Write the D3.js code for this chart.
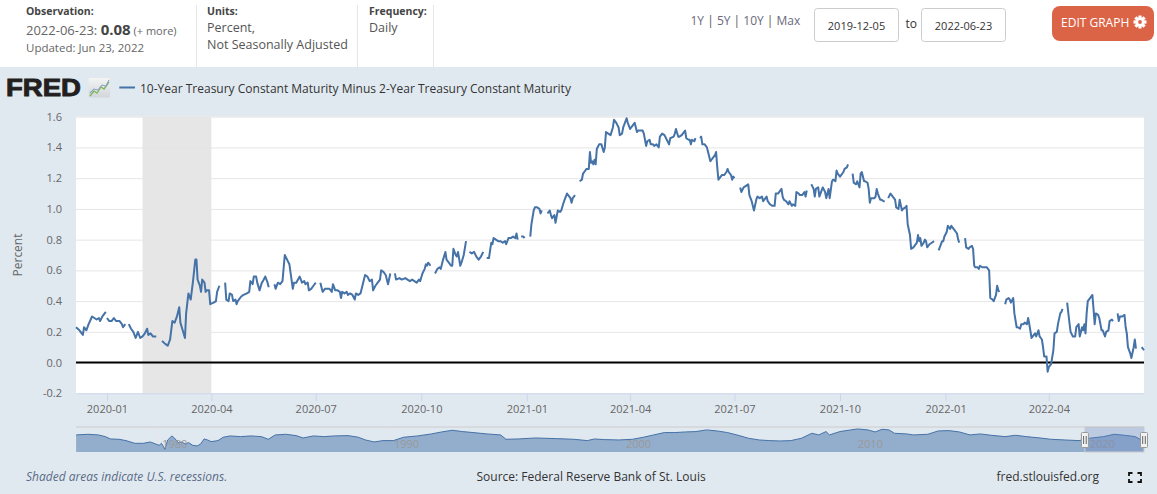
<!DOCTYPE html>
<html>
<head>
<meta charset="utf-8">
<script src="https://cdn.jsdelivr.net/npm/d3@7"></script>
<style>
  body { margin: 0; background: #e1e9f0; }
  svg { display: block; font-family: "Open Sans", sans-serif; }
</style>
</head>
<body>
<svg id="chart" width="1157" height="494"></svg>
<script>
"use strict";

const START_DAY = "2019-12-05";
const END_DAY = "2022-06-23";
const NAV_START = "1976-06-01";

// [days since START_DAY, percent]; null = missing observation (gap in the line)
const spreadObs = [
[0,0.23],[3,0.21],[6,0.18],[7,0.23],[9,0.21],[11,0.25],[14,0.30],[16,0.29],[18,0.28],[20,0.29],[21,0.27],[23,0.30],[26,0.33],
[26.5,null],[27,0.29],[29,0.27],[31,0.27],[33,0.29],[35,0.27],[38,0.27],[40,0.25],[41,0.23],[43,0.25],[44.5,null],
[46,0.25],[48,0.22],[50,0.20],[52,0.16],[54,0.20],[56,0.16],[58,0.17],[60,0.19],[62,0.22],[63,0.18],[65,0.19],[67,0.17],[70,0.17],[72,null],
[75,0.14],[78,0.12],[80,0.11],[82,0.15],[84,0.27],[86,0.26],[88,0.30],[90,0.36],[91,0.26],[93,0.21],[95,0.16],[96,0.32],[98,0.45],
[100,0.41],[102,0.53],[104,0.67],[105,0.67],[106,0.54],[108,0.50],[109,0.46],[110,0.54],[112,0.52],[113,0.46],[114,0.47],[116,0.47],
[117,0.38],[120,0.39],[122,0.40],[123,0.46],[125,0.50],[127,null],[130,0.52],[131,0.41],[133,0.40],[134,0.45],[136,0.44],[137,0.40],
[139,0.41],[140,0.38],[141,0.40],[144,0.43],[146,0.44],[149,0.45],[151,0.46],[152,0.53],[154,0.51],[155,0.56],[157,0.56],[158,0.52],
[160,0.47],[162,0.52],[163,0.53],[165,0.56],[167,0.52],[168,0.49],[170,null],[173,0.51],[174,0.48],[176,0.52],[178,0.51],[180,0.53],
[182,0.70],[184,0.67],[186,0.64],[189,0.48],[190,0.52],[192,0.52],[195,0.56],[197,0.52],[199,0.53],[200,0.51],[202,0.52],[203,0.47],
[205,0.48],[207,0.50],[209,0.52],[211,null],[213,0.52],[215,0.46],[217,0.48],[219,0.48],[221,0.48],[223,0.46],[224,0.51],[226,0.47],
[228,0.47],[230,0.46],[231,0.42],[232,0.46],[234,0.45],[236,0.46],[237,0.44],[239,0.45],[241,0.44],[243,0.41],[244,0.45],[246,0.44],
[248,0.45],[250,0.51],[252,0.57],[254,0.56],[256,0.53],[258,0.54],[259,0.47],[261,0.50],[263,0.52],[265,0.54],[266,0.60],[268,0.59],
[270,0.57],[272,0.51],[274,0.58],[276,null],[278,0.58],[279,0.54],[282,0.55],[284,0.54],[287,0.55],[289,0.54],[291,0.53],[293,0.54],
[295,0.53],[297,0.52],[299,0.54],[300,0.53],[302,0.58],[304,0.61],[305,0.64],[306,0.63],[307,0.65],[309,0.63],[311,null],[313,0.58],
[315,0.61],[317,0.62],[318,0.61],[320,0.67],[322,0.72],[323,0.67],[325,0.65],[327,0.63],[328,0.63],[329,0.74],[331,0.70],[332,0.69],
[333,0.72],[335,0.63],[336,0.65],[338,0.70],[340,0.79],[341.5,null],[343,0.72],[345,0.71],[347,0.72],[349,0.69],[351,0.67],[353,0.69],
[355,0.72],[356.5,null],[358,0.68],[360,0.68],[362,0.78],[363,0.77],[364,0.81],[366,0.80],[368,0.79],[370,0.79],[372,0.78],[374,0.79],
[375,0.77],[377,0.81],[379,0.81],[381,0.82],[383,0.81],[384,0.84],[385,0.80],[386.5,null],[388,0.82],[390,0.82],[391,0.81],[393.5,null],
[396,0.82],[397,0.90],[399,0.99],[400,1.01],[402,1.01],[404,1.00],[405,0.97],[406,0.99],[408.5,null],[411,0.97],[413,0.99],[414,0.96],
[415,0.94],[417,0.96],[418,0.91],[419,0.95],[420,0.99],[422,0.98],[423,0.99],[425,1.04],[426,1.06],[428,1.10],[429,1.09],[431,1.07],
[432,1.04],[433,1.07],[435,1.09],[437,null],[439,1.18],[441,1.19],[442,1.23],[444,1.25],[445,1.26],[447,1.26],[448,1.37],[449,1.30],
[450,1.31],[451,1.29],[452,1.32],[453,1.29],[454,1.39],[456,1.42],[458,1.42],[460,1.37],[461,1.40],[462,1.50],[464,1.49],[466,1.48],
[468,1.53],[469,1.58],[471,1.56],[473,1.53],[474,1.48],[476,1.49],[477,1.53],[479,1.57],[480,1.59],[481,1.56],[483,1.52],[484,1.53],
[486,1.55],[487,1.56],[489,1.50],[490,1.51],[492,1.51],[494,1.51],[495,1.49],[497,1.41],[498,1.44],[500,1.45],[501,1.42],[503,1.42],
[504,1.41],[506,1.42],[508,1.40],[509,1.47],[511,1.49],[513,1.48],[515,1.45],[517,1.42],[518,1.46],[521,1.47],[522,1.49],[523,1.52],
[525,1.47],[526,1.47],[528,1.48],[529,1.49],[531,1.51],[532,1.46],[534,1.45],[535,1.45],[536,1.42],[537,1.45],[539,1.44],[540,1.46],
[542,null],[544,1.46],[545,1.47],[546,1.42],[548,1.42],[550,1.40],[551,1.37],[553,1.31],[554,1.32],[555,1.33],[557,1.35],[558,1.37],
[559,1.27],[560,1.19],[561,1.20],[563,1.22],[565,1.22],[567,1.24],[568,1.26],[569,1.24],[571,1.22],[572,1.19],[573,1.21],[574,1.20],
[576.5,null],[579,1.14],[580,1.11],[582,1.14],[584,1.15],[586,1.16],[587,1.09],[589,1.05],[591,0.99],[593,1.06],[594,1.08],[596,1.07],
[598,1.08],[599,1.05],[601,1.07],[602,1.08],[603,1.05],[605,1.03],[607,1.02],[609,1.02],[610,1.10],[612,1.10],[614,1.12],[615,1.13],
[616,1.08],[617,1.06],[619,1.05],[621,1.03],[622,1.05],[624,1.02],[625,1.03],[627,1.02],[628,1.11],[630,1.10],[631,1.09],[633,1.09],
[635,1.11],[636,1.08],[637,1.12],[639,null],[641,1.16],[643,1.13],[644,1.08],[645,1.13],[647,1.14],[648,1.08],[650,1.12],[651,1.14],
[653,1.11],[654,1.07],[656,1.13],[657,1.07],[659,1.18],[660,1.19],[662,1.18],[663,1.25],[664,1.23],[666,1.21],[667,1.22],[669,1.24],
[670,1.26],[672,1.27],[673,1.29],[675,null],[677,1.23],[678,1.17],[680,1.16],[681,1.18],[683,1.14],[684,1.23],[685,1.24],[687,1.18],
[688,1.18],[690,1.17],[691,1.13],[692,1.04],[693,1.07],[696,1.07],[697,1.08],[698,1.13],[699,1.10],[701,1.06],[702,1.06],[704,1.05],
[705,1.05],[706.5,null],[708,1.07],[710,1.10],[712,1.08],[714,1.06],[715,1.01],[717,1.00],[718,1.06],[720,0.99],[721,1.00],[723,1.01],
[724,1.02],[725,0.90],[727,0.83],[728,0.74],[730,0.75],[731,0.76],[733,0.78],[734,0.83],[735,0.79],[736,0.81],[737,0.76],[739,0.78],
[740,0.80],[741,0.79],[742,0.75],[744,0.77],[746,0.78],[748,0.79],[750,null],[752,0.73],[755,0.79],[756,0.79],[757,0.82],[759,0.85],
[760,0.89],[762,0.87],[763,0.89],[765,0.87],[766,0.86],[768,0.84],[769,0.80],[770,0.78],[772.5,null],[775,0.81],[776,0.75],[778,0.74],
[779,0.75],[781,0.76],[782,0.74],[783,0.63],[784,0.62],[786,0.62],[787,0.61],[788,0.63],[790,0.62],[792,0.62],[794,0.62],[796,0.60],
[797,0.42],[799,0.41],[800,0.40],[802,0.44],[803,0.50],[804,0.47],[805,0.46],[807.5,null],[810,0.38],[811,0.41],[813,0.42],[814,0.41],
[815,0.39],[817,0.42],[818,0.32],[820,0.23],[821,0.23],[823,0.22],[824,0.25],[826,0.25],[827,0.26],[829,0.25],[830,0.29],[831,0.25],
[833,0.16],[834,0.17],[836,0.19],[837,0.17],[839,0.21],[840,0.17],[842,0.15],[843,0.10],[844,0.04],[846,0.04],[847,-0.06],[848,-0.03],
[850,-0.01],[852,0.08],[853,0.19],[855,0.20],[856,0.25],[858,0.32],[859,0.33],[860,0.35],[862,null],[864,0.39],[866,0.26],[867,0.20],
[869,0.17],[871,0.17],[872,0.23],[874,0.25],[875,0.17],[877,0.23],[878,0.21],[879,0.25],[880,0.19],[881,0.32],[882,0.40],[884,0.42],
[886,0.44],[887,0.35],[888,0.25],[889,0.32],[891,0.31],[892,0.29],[894,0.21],[895,0.21],[897,0.17],[898,0.20],[900,0.21],[901,0.27],
[903,0.28],[904,0.27],[906,null],[908,0.32],[909,0.27],[910,0.30],[912,0.30],[914,0.31],[915,0.23],[916,0.19],[917,0.10],[919,0.06],
[920,0.03],[922,0.10],[923,0.15],[924,0.09],[926.5,null],[929,0.10],[931,0.08]
];

// navigator: full history, [decimal year, percent]
const navObs = [
[1976.42,1.34],[1976.93,1.51],[1977.38,1.34],[1977.68,0.90],[1977.90,0.29],[1978.27,0.21],[1978.57,-0.14],[1978.95,-0.84],
[1979.32,-0.84],[1979.62,-0.49],[1979.85,-1.01],[1980.00,-1.36],[1980.10,-0.84],[1980.19,-1.70],[1980.25,-2.40],[1980.37,0.03],
[1980.55,1.08],[1980.67,0.47],[1980.82,-0.66],[1980.97,-0.49],[1981.12,-1.01],[1981.27,-0.66],[1981.45,-1.36],[1981.64,-1.53],
[1981.79,-1.01],[1981.94,0.29],[1982.09,0.03],[1982.24,-0.40],[1982.54,-0.14],[1982.76,0.73],[1983.06,1.08],[1983.51,0.90],
[1983.96,1.08],[1984.41,0.90],[1984.71,0.21],[1985.01,1.34],[1985.46,1.51],[1985.91,1.16],[1986.21,0.55],[1986.65,1.08],
[1987.10,0.90],[1987.55,1.08],[1988.15,1.16],[1988.60,0.73],[1988.90,0.03],[1989.27,-0.49],[1989.65,-0.14],[1990.10,-0.14],
[1990.54,0.73],[1991.14,1.08],[1991.74,1.60],[1992.19,2.12],[1992.64,2.55],[1993.09,2.21],[1993.54,1.95],[1994.14,1.60],
[1994.73,1.34],[1994.96,0.21],[1995.48,0.29],[1996.23,0.55],[1997.13,0.38],[1997.88,0.21],[1998.47,-0.14],[1998.77,0.29],
[1999.22,0.12],[1999.82,0.03],[2000.42,0.21],[2000.88,0.73],[2001.33,1.34],[2001.79,1.95],[2002.24,1.95],[2002.70,2.12],
[2003.15,2.21],[2003.60,2.64],[2004.06,2.38],[2004.51,1.95],[2004.97,1.25],[2005.42,0.47],[2005.88,0.03],[2006.33,-0.14],
[2006.79,-0.23],[2007.24,-0.14],[2007.70,0.47],[2008.15,1.77],[2008.45,1.34],[2008.76,2.21],[2008.91,1.34],[2009.36,2.21],
[2009.82,2.64],[2010.12,2.90],[2010.57,2.64],[2010.88,2.12],[2011.18,2.81],[2011.48,2.64],[2011.71,1.77],[2012.24,1.60],
[2012.54,1.34],[2013.15,1.51],[2013.60,2.38],[2014.06,2.46],[2014.51,2.12],[2014.97,1.34],[2015.42,1.60],[2015.88,1.25],
[2016.48,0.90],[2016.94,1.25],[2017.39,0.90],[2017.99,0.55],[2018.45,0.21],[2019.06,0.03],[2019.67,-0.14],[2020.12,0.47],
[2020.73,0.90],[2021.18,1.51],[2021.64,1.25],[2022.09,0.90],[2022.36,0.03],[2022.47,0.08]
];

const recessions = [["2020-02-01", "2020-04-01"]];
const yTicks = [-0.2, 0, 0.2, 0.4, 0.6, 0.8, 1.0, 1.2, 1.4, 1.6];
const xTickDates = ["2020-01-01", "2020-04-01", "2020-07-01", "2020-10-01", "2021-01-01",
                    "2021-04-01", "2021-07-01", "2021-10-01", "2022-01-01", "2022-04-01"];
const navYears = [1980, 1990, 2000, 2010, 2020];
const seriesTitle = "10-Year Treasury Constant Maturity Minus 2-Year Treasury Constant Maturity";

const plotLeft = 76, plotRight = 1144, plotTop = 116.7, plotBottom = 393.3;
const navTop = 427, navBottom = 452;
const lineColor = "#4572a7";

const parseDay = d3.utcParse("%Y-%m-%d");
const startDate = parseDay(START_DAY);
function dayToDate(d) { return new Date(startDate.getTime() + d * 864e5); }
function toYear(date) {
    let y = date.getUTCFullYear();
    let y0 = Date.UTC(y, 0, 1), y1 = Date.UTC(y + 1, 0, 1);
    return y + (date.getTime() - y0) / (y1 - y0);
}

window.addEventListener("load", init);

function drawHeader(svg) {
    svg.append("rect").attr("width", 1157).attr("height", 67).attr("fill", "#fff");
    [196.5, 357.5, 433.5].forEach(x => {
        svg.append("line").attr("x1", x).attr("x2", x).attr("y1", 5).attr("y2", 67)
            .attr("stroke", "#e6e6e6");
    });
    let label = (x, y, t) => svg.append("text").attr("x", x).attr("y", y).text(t)
        .attr("font-size", "10.5px").attr("font-weight", "bold").attr("fill", "#444");
    let plain = (x, y, t, size, color) => svg.append("text").attr("x", x).attr("y", y).text(t)
        .attr("font-size", size).attr("fill", color);

    label(26, 15, "Observation:");
    let obs = svg.append("text").attr("x", 26).attr("y", 35.3);
    obs.append("tspan").text("2022-06-23: ").attr("font-size", "13px").attr("fill", "#666");
    obs.append("tspan").text("0.08").attr("font-size", "15px").attr("font-weight", "bold").attr("fill", "#444");
    obs.append("tspan").text(" (+ more)").attr("font-size", "11px").attr("fill", "#666");
    plain(26, 52.3, "Updated: Jun 23, 2022", "11.5px", "#666");

    label(207, 15, "Units:");
    plain(207, 32.3, "Percent,", "12.5px", "#555");
    plain(207, 49, "Not Seasonally Adjusted", "12.5px", "#555");
    label(369, 15, "Frequency:");
    plain(369, 32.3, "Daily", "12.5px", "#555");

    let ranges = svg.append("text").attr("x", 690.5).attr("y", 25).attr("font-size", "12px");
    ["1Y", "5Y", "10Y", "Max"].forEach((r, i) => {
        if (i > 0) ranges.append("tspan").text(" | ").attr("fill", "#555");
        ranges.append("tspan").text(r).attr("fill", "#6a6a7a");
    });

    [[814.5, START_DAY], [921.5, END_DAY]].forEach(([x, t]) => {
        svg.append("rect").attr("x", x).attr("y", 8.5).attr("width", 84).attr("height", 33)
            .attr("rx", 3).attr("fill", "#fff").attr("stroke", "#ccc");
        svg.append("text").attr("x", x + 42).attr("y", 29.5).attr("text-anchor", "middle")
            .attr("font-size", "11px").attr("fill", "#333").text(t);
    });
    plain(905.5, 28, "to", "12px", "#333");

    svg.append("rect").attr("x", 1052).attr("y", 6).attr("width", 102).attr("height", 35)
        .attr("rx", 8).attr("fill", "#dc6446");
    plain(1061, 27, "EDIT GRAPH", "12px", "#fff");
    let gear = svg.append("g").attr("transform", "translate(1140,22)");
    d3.range(8).forEach(i => {
        gear.append("rect").attr("x", -1.6).attr("y", -6.5).attr("width", 3.2).attr("height", 4)
            .attr("fill", "#fff").attr("transform", "rotate(" + i * 45 + ")");
    });
    gear.append("circle").attr("r", 4.6).attr("fill", "#fff");
    gear.append("circle").attr("r", 1.9).attr("fill", "#dc6446");
}

function drawLegend(svg) {
    svg.append("text").attr("x", 6).attr("y", 96.3).text("FRED")
        .attr("font-family", "Liberation Sans, Arial, sans-serif").attr("font-weight", "bold")
        .attr("font-size", "24px").attr("fill", "#231f20")
        .attr("stroke", "#231f20").attr("stroke-width", 0.9)
        .attr("textLength", 75).attr("lengthAdjust", "spacingAndGlyphs");
    let grad = svg.append("defs").append("linearGradient").attr("id", "iconGrad")
        .attr("x1", 0).attr("y1", 0).attr("x2", 0).attr("y2", 1);
    grad.append("stop").attr("offset", "0%").attr("stop-color", "#f4f4f4");
    grad.append("stop").attr("offset", "100%").attr("stop-color", "#d2d6da");
    svg.append("rect").attr("x", 88.5).attr("y", 78).attr("width", 21.5).attr("height", 19.5)
        .attr("rx", 1.5).attr("fill", "url(#iconGrad)");
    svg.append("polyline").attr("points", "90,96 94,91 97,93 101,87 104,89 109,82")
        .attr("fill", "none").attr("stroke", "#7fb65a").attr("stroke-width", 1.3);
    svg.append("polyline").attr("points", "90,93 94,89 98,90 102,85 106,86 109,80")
        .attr("fill", "none").attr("stroke", "#8aa5c4").attr("stroke-width", 1.1);
    svg.append("line").attr("x1", 119.3).attr("x2", 135).attr("y1", 87.5).attr("y2", 87.5)
        .attr("stroke", lineColor).attr("stroke-width", 2);
    svg.append("text").attr("x", 140).attr("y", 92.5).attr("font-size", "12px")
        .attr("fill", "#333").text(seriesTitle);
}

function drawChart(svg) {
    let xScale = d3.scaleUtc().domain([startDate, parseDay(END_DAY)]).range([plotLeft, plotRight]);
    let yScale = d3.scaleLinear().domain([-0.2, 1.6]).range([plotBottom, plotTop]);

    svg.append("rect").attr("x", plotLeft).attr("y", plotTop)
        .attr("width", plotRight - plotLeft).attr("height", plotBottom - plotTop).attr("fill", "#fff");

    svg.selectAll("rect.recession").data(recessions).join("rect").attr("class", "recession")
        .attr("x", r => xScale(parseDay(r[0])))
        .attr("width", r => xScale(parseDay(r[1])) - xScale(parseDay(r[0])))
        .attr("y", plotTop).attr("height", plotBottom - plotTop).attr("fill", "#e6e6e6");

    // horizontal grid
    let grid = svg.append("g").attr("transform", "translate(" + plotLeft + ",0)")
        .call(d3.axisLeft(yScale).tickValues(yTicks.slice(1)).tickSize(-(plotRight - plotLeft)).tickFormat(""));
    grid.select(".domain").remove();
    grid.selectAll("line").attr("stroke", "#e6e6e6");

    let yAxis = svg.append("g").attr("transform", "translate(" + plotLeft + ",0)")
        .call(d3.axisLeft(yScale).tickValues(yTicks).tickSize(0).tickPadding(14).tickFormat(d => d.toFixed(1)));
    yAxis.select(".domain").remove();
    yAxis.selectAll("text").attr("font-family", "Open Sans, sans-serif").attr("font-size", "11px").attr("fill", "#666");

    let xAxis = svg.append("g").attr("transform", "translate(0," + plotBottom + ")")
        .call(d3.axisBottom(xScale).tickValues(xTickDates.map(parseDay))
            .tickFormat(d3.utcFormat("%Y-%m")).tickSize(8).tickSizeOuter(0).tickPadding(4));
    xAxis.select(".domain").attr("stroke", "#ccd6eb");
    xAxis.selectAll("line").attr("stroke", "#ccd6eb");
    xAxis.selectAll("text").attr("font-family", "Open Sans, sans-serif").attr("font-size", "11px").attr("fill", "#666");

    svg.append("text").attr("transform", "translate(21.5,255) rotate(-90)")
        .attr("text-anchor", "middle").attr("font-size", "12px").attr("fill", "#666").text("Percent");

    svg.append("line").attr("x1", plotLeft).attr("x2", plotRight)
        .attr("y1", yScale(0)).attr("y2", yScale(0)).attr("stroke", "#000").attr("stroke-width", 2);

    let line = d3.line()
        .defined(d => d[1] !== null)
        .x(d => xScale(dayToDate(d[0])))
        .y(d => yScale(d[1]));
    svg.append("path").datum(spreadObs).attr("d", line)
        .attr("fill", "none").attr("stroke", lineColor).attr("stroke-width", 2)
        .attr("stroke-linejoin", "round");
}

function drawNavigator(svg) {
    let navX = d3.scaleLinear().domain([toYear(parseDay(NAV_START)), toYear(parseDay(END_DAY))])
        .range([plotLeft, plotRight]);
    let navY = d3.scaleLinear().domain([-3.1, 3.4]).range([navBottom, navTop]);

    svg.selectAll("line.navgrid").data(navYears).join("line").attr("class", "navgrid")
        .attr("x1", d => navX(d)).attr("x2", d => navX(d))
        .attr("y1", navTop).attr("y2", navBottom).attr("stroke", "#e6e6e6");

    let area = d3.area().x(d => navX(d[0])).y0(navBottom).y1(d => navY(d[1]));
    svg.append("path").datum(navObs).attr("d", area)
        .attr("fill", lineColor).attr("fill-opacity", 0.5);
    svg.append("path").datum(navObs).attr("d", d3.line().x(d => navX(d[0])).y(d => navY(d[1])))
        .attr("fill", "none").attr("stroke", lineColor).attr("stroke-width", 1);

    svg.selectAll("text.navlab").data(navYears).join("text").attr("class", "navlab")
        .attr("x", d => navX(d) + 3).attr("y", 448).attr("font-size", "11px")
        .attr("fill", "#999").text(d => d);

    svg.append("line").attr("x1", plotLeft).attr("x2", plotRight).attr("y1", navTop).attr("y2", navTop)
        .attr("stroke", "#ccc");

    let selLeft = navX(toYear(startDate)), selRight = navX(toYear(parseDay(END_DAY)));
    svg.append("rect").attr("x", selLeft).attr("y", navTop)
        .attr("width", selRight - selLeft).attr("height", navBottom - navTop)
        .attr("fill", "rgba(102,133,194,0.3)").attr("stroke", "#ccc");

    [selLeft, selRight].forEach(x => {
        let h = svg.append("g").attr("transform", "translate(" + x + ",440)");
        h.append("rect").attr("x", -3.5).attr("y", -7.5).attr("width", 7).attr("height", 15)
            .attr("rx", 1).attr("fill", "#f2f2f2").attr("stroke", "#999");
        [-1.3, 1.3].forEach(dx => h.append("line").attr("x1", dx).attr("x2", dx)
            .attr("y1", -4).attr("y2", 4).attr("stroke", "#666"));
    });
}

function drawFooter(svg) {
    svg.append("text").attr("x", 26).attr("y", 480.7).attr("font-size", "12px")
        .attr("font-style", "italic").attr("fill", "#5a6c87").text("Shaded areas indicate U.S. recessions.");
    svg.append("text").attr("x", 476.5).attr("y", 480.7).attr("font-size", "12px")
        .attr("fill", "#333").text("Source: Federal Reserve Bank of St. Louis");
    svg.append("text").attr("x", 996.5).attr("y", 480.7).attr("font-size", "12px")
        .attr("fill", "#333").text("fred.stlouisfed.org");
    // fullscreen icon
    let c = [[1129, 473, 1, 1], [1141, 473, -1, 1], [1129, 482, 1, -1], [1141, 482, -1, -1]];
    c.forEach(([x, y, sx, sy]) => {
        svg.append("path").attr("d", "M" + (x + 3.5 * sx) + "," + y + "H" + x + "V" + (y + 3 * sy))
            .attr("fill", "none").attr("stroke", "#111").attr("stroke-width", 1.8);
    });
}

function init() {
    const svg = d3.select("#chart");
    svg.append("rect").attr("width", 1157).attr("height", 494).attr("fill", "#e1e9f0");
    drawHeader(svg);
    drawLegend(svg);
    drawChart(svg);
    drawNavigator(svg);
    drawFooter(svg);
}
</script>
</body>
</html>
